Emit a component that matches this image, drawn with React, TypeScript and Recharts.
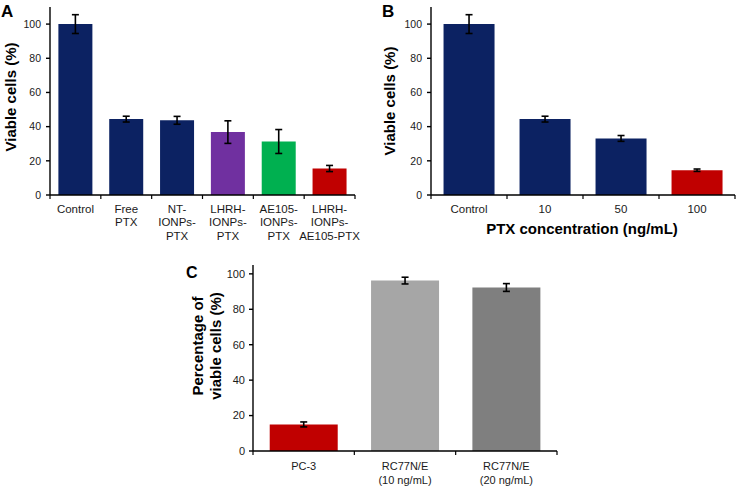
import React from "react";
import { BarChart, Bar, XAxis, YAxis, ErrorBar, Cell } from "recharts";

// ---------- Panel A ----------
const catsA = ["Control", "Free\nPTX", "NT-\nIONPs-\nPTX", "LHRH-\nIONPs-\nPTX", "AE105-\nIONPs-\nPTX", "LHRH-\nIONPs-\nAE105-PTX"];
const valsA = [100, 44.4, 43.7, 36.8, 31.3, 15.5];
const errsA = [5.5, 1.7, 2.3, 6.6, 7.0, 1.8];
const colorsA = ["#0c2262", "#0c2262", "#0c2262", "#7030a0", "#00b050", "#c00000"];

// ---------- Panel B ----------
const catsB = ["Control", "10", "50", "100"];
const valsB = [100, 44.4, 33.1, 14.5];
const errsB = [5.5, 1.7, 1.7, 0.7];
const colorsB = ["#0c2262", "#0c2262", "#0c2262", "#c00000"];

// ---------- Panel C ----------
const catsC = ["PC-3", "RC77N/E\n(10 ng/mL)", "RC77N/E\n(20 ng/mL)"];
const valsC = [15.0, 96.2, 92.3];
const errsC = [1.4, 1.9, 2.2];
const colorsC = ["#c00000", "#a6a6a6", "#7f7f7f"];

const yTicks = [0, 20, 40, 60, 80, 100];

const build = (cats: string[], vals: number[], errs: number[]) =>
  cats.map((c, i) => ({ name: c, value: vals[i], err: errs[i] }));

const dataA = build(catsA, valsA, errsA);
const dataB = build(catsB, valsB, errsB);
const dataC = build(catsC, valsC, errsC);

const FONT = "'Liberation Sans', Arial, Helvetica, sans-serif";

const MultiTick = (props: any) => {
  const { x, y, payload, index, fontSize, lineHeight, firstDy, band, count } = props;
  const lines = String(payload.value).split("\n");
  const isLast = index === count - 1;
  return (
    <g>
      <line x1={x - band / 2} y1={y} x2={x - band / 2} y2={y + 4} stroke="#000" strokeWidth={1.2} />
      {isLast && (
        <line x1={x + band / 2} y1={y} x2={x + band / 2} y2={y + 4} stroke="#000" strokeWidth={1.2} />
      )}
      <text x={x} y={y} textAnchor="middle" fontSize={fontSize} fill="#1a1a1a" fontFamily={FONT}>
        {lines.map((l: string, i: number) => (
          <tspan key={i} x={x} dy={i === 0 ? firstDy : lineHeight}>
            {l}
          </tspan>
        ))}
      </text>
    </g>
  );
};

type PanelProps = {
  data: any[];
  colors: string[];
  width: number;
  height: number;
  yWidth: number;
  top: number;
  right: number;
  xHeight: number;
  yMax: number;
  yFont: number;
  yMargin: number;
  catFont: number;
  lineHeight: number;
  firstDy: number;
};

const Panel = (p: PanelProps) => {
  const n = p.data.length;
  const band = (p.width - p.yWidth - p.right) / n;
  return (
    <BarChart
      width={p.width}
      height={p.height}
      data={p.data}
      margin={{ top: p.top, right: p.right, bottom: 0, left: 0 }}
      barCategoryGap="16.5%"
    >
      <XAxis
        dataKey="name"
        type="category"
        height={p.xHeight}
        stroke="#000"
        strokeWidth={1.4}
        axisLine={true}
        tickLine={false}
        tickSize={0}
        tickMargin={0}
        interval={0}
        tick={(tp: any) => (
          <MultiTick
            {...tp}
            fontSize={p.catFont}
            lineHeight={p.lineHeight}
            firstDy={p.firstDy}
            band={band}
            count={n}
          />
        )}
      />
      <YAxis
        type="number"
        domain={[0, p.yMax]}
        ticks={yTicks}
        allowDataOverflow
        width={p.yWidth}
        stroke="#000"
        strokeWidth={1.4}
        axisLine={true}
        tickLine={true}
        tickSize={4}
        tickMargin={p.yMargin}
        tick={{ fill: "#1a1a1a", fontSize: p.yFont, fontFamily: FONT, stroke: "none" }}
      />
      <Bar dataKey="value" isAnimationActive={false}>
        {p.data.map((_, i) => (
          <Cell key={i} fill={p.colors[i]} />
        ))}
        <ErrorBar dataKey="err" direction="y" width={3.5} stroke="#000" strokeWidth={1.6} />
      </Bar>
    </BarChart>
  );
};

export default function App() {
  return (
    <div
      style={{
        position: "absolute",
        left: 0,
        top: 0,
        width: 736,
        height: 486,
        background: "#fff",
        fontFamily: FONT,
        overflow: "hidden",
      }}
    >
      <div style={{ position: "absolute", left: 0, top: 0 }}>
        <Panel
          data={dataA}
          colors={colorsA}
          width={370}
          height={250}
          yWidth={50}
          top={7}
          right={15}
          xHeight={55}
          yMax={110}
          yFont={10.5}
          yMargin={5}
          catFont={11.5}
          lineHeight={13.3}
          firstDy={18}
        />
      </div>
      <div style={{ position: "absolute", left: 366, top: 0 }}>
        <Panel
          data={dataB}
          colors={colorsB}
          width={370}
          height={250}
          yWidth={65}
          top={7}
          right={1}
          xHeight={55}
          yMax={110}
          yFont={10.5}
          yMargin={5}
          catFont={11.5}
          lineHeight={13.3}
          firstDy={18}
        />
      </div>
      <div style={{ position: "absolute", left: 180, top: 240 }}>
        <Panel
          data={dataC}
          colors={colorsC}
          width={400}
          height={246}
          yWidth={73}
          top={25}
          right={23}
          xHeight={35}
          yMax={105}
          yFont={11}
          yMargin={4}
          catFont={11}
          lineHeight={14}
          firstDy={19}
        />
      </div>
      <svg
        width={736}
        height={486}
        style={{ position: "absolute", left: 0, top: 0, pointerEvents: "none" }}
        fontFamily={FONT}
      >
        <text x={1} y={17} fontSize={17} fontWeight="bold" fill="#000">A</text>
        <text x={382} y={17} fontSize={17} fontWeight="bold" fill="#000">B</text>
        <text x={186} y={278} fontSize={16} fontWeight="bold" fill="#000">C</text>
        <text
          x={10}
          y={97}
          fontSize={15}
          fontWeight="bold"
          textAnchor="middle"
          dominantBaseline="central"
          transform="rotate(-90 10 97)"
          fill="#000"
        >
          Viable cells (%)
        </text>
        <text
          x={389}
          y={101}
          fontSize={15}
          fontWeight="bold"
          textAnchor="middle"
          dominantBaseline="central"
          transform="rotate(-90 389 101)"
          fill="#000"
        >
          Viable cells (%)
        </text>
        <text x={582} y={234} fontSize={15} fontWeight="bold" textAnchor="middle" fill="#000">
          PTX concentration (ng/mL)
        </text>
        <text
          x={197}
          y={346}
          fontSize={15}
          fontWeight="bold"
          textAnchor="middle"
          dominantBaseline="central"
          transform="rotate(-90 197 346)"
          fill="#000"
        >
          Percentage of
        </text>
        <text
          x={215}
          y={346}
          fontSize={15}
          fontWeight="bold"
          textAnchor="middle"
          dominantBaseline="central"
          transform="rotate(-90 215 346)"
          fill="#000"
        >
          viable cells (%)
        </text>
      </svg>
    </div>
  );
}
